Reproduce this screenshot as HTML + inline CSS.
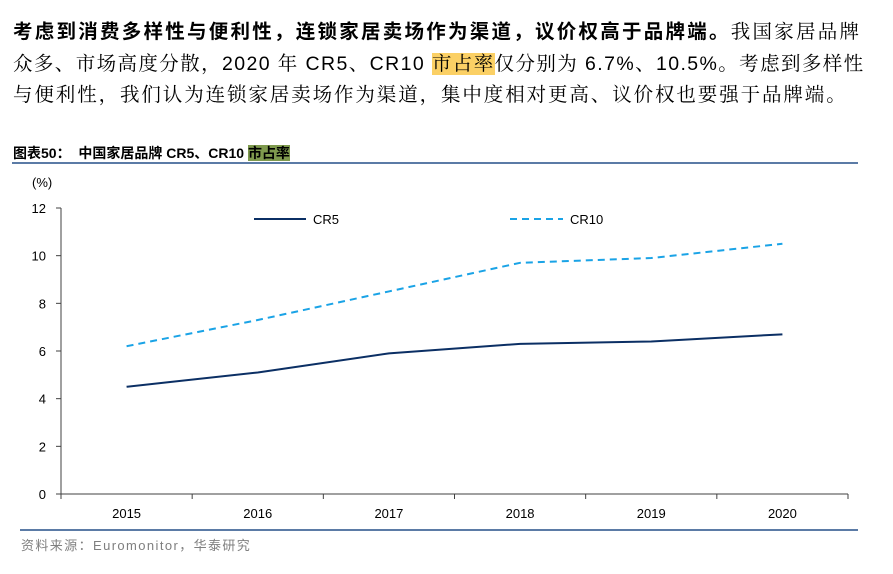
<!DOCTYPE html>
<html><head><meta charset="utf-8"><style>
body{margin:0;width:893px;height:574px;background:#fff;font-family:"Liberation Sans","Noto Sans CJK SC",sans-serif;overflow:hidden;position:relative}
.p{position:absolute;left:13px;width:870px;font-size:19.5px;line-height:31.5px;color:#000;font-family:"Liberation Sans","Noto Serif CJK SC",serif}
.p div{white-space:nowrap}
</style></head><body>
<div class="p" style="top:17px">
<div style="letter-spacing:2.25px"><b style="font-family:'Liberation Sans','Noto Sans CJK SC',sans-serif">考虑到消费多样性与便利性，连锁家居卖场作为渠道，议价权高于品牌端。</b>我国家居品牌</div>
<div style="letter-spacing:1.4px">众多、市场高度分散，2020 年 CR5、CR10 <span style="background:#fbd065">市占率</span>仅分别为 6.7%、10.5%。考虑到多样性</div>
<div style="letter-spacing:1.9px">与便利性，我们认为连锁家居卖场作为渠道，集中度相对更高、议价权也要强于品牌端。</div>
</div>
<div style="position:absolute;left:13px;top:143px;font-size:14px;font-weight:bold">图表50：&nbsp; 中国家居品牌 CR5、CR10 <span style="background:#7f9a4e">市占率</span></div>
<div style="position:absolute;left:12px;top:162px;width:846px;height:2px;background:#5b7ba6"></div>
<div style="position:absolute;left:20px;top:529px;width:838px;height:2px;background:#5b7ba6"></div>
<div style="position:absolute;left:21px;top:535px;font-size:13px;color:#7f7f7f;letter-spacing:1.4px">资料来源：Euromonitor，华泰研究</div>
<svg id="chart" width="893" height="574" style="position:absolute;left:0;top:0" font-family="Liberation Sans, sans-serif"></svg>
<script>
const years=["2015","2016","2017","2018","2019","2020"];
const cr5=[4.5,5.1,5.9,6.3,6.4,6.7];
const cr10=[6.2,7.3,8.5,9.7,9.9,10.5];
const yTicks=[0,2,4,6,8,10,12];
const svg=document.getElementById('chart');const NS='http://www.w3.org/2000/svg';
const x0=61,x1=848,y0=494,y1=208;
const band=(x1-x0)/years.length;
const X=i=>x0+band*(i+0.5);
const Y=v=>y0-(v/12)*(y0-y1);
function mk(t,a,txt){const e=document.createElementNS(NS,t);for(const k in a)e.setAttribute(k,a[k]);if(txt!=null)e.textContent=txt;svg.appendChild(e);return e;}
let e=mk('text',{x:32,y:187,'font-size':13},'(%)');

e=mk('line',{x1:x0,y1:y1,x2:x0,y2:y0,stroke:'#404040','stroke-width':1});

e=mk('line',{x1:x0,y1:y0,x2:x1,y2:y0,stroke:'#404040','stroke-width':1});

yTicks.forEach(v=>{
 e=mk('line',{x1:x0-5,y1:Y(v),x2:x0,y2:Y(v),stroke:'#404040'});
 
 e=mk('text',{x:x0-15,y:Y(v)+5,'font-size':13,'text-anchor':'end'},v);
 
});
for(let i=0;i<=years.length;i++){
 e=mk('line',{x1:x0+band*i,y1:y0,x2:x0+band*i,y2:y0+5,stroke:'#404040'});
 
}
years.forEach((y,i)=>{
 e=mk('text',{x:X(i),y:y0+24,'font-size':13,'text-anchor':'middle'},y);
 
});
e=mk('polyline',{points:cr10.map((v,i)=>X(i)+','+Y(v)).join(' '),fill:'none',stroke:'#1aa3e6','stroke-width':2,'stroke-dasharray':'7,5'});

e=mk('polyline',{points:cr5.map((v,i)=>X(i)+','+Y(v)).join(' '),fill:'none',stroke:'#0b2f64','stroke-width':2});

e=mk('line',{x1:254,y1:219,x2:306,y2:219,stroke:'#0b2f64','stroke-width':2});

e=mk('text',{x:313,y:224,'font-size':13},'CR5');

e=mk('line',{x1:510,y1:219,x2:563,y2:219,stroke:'#1aa3e6','stroke-width':2,'stroke-dasharray':'7,5'});

e=mk('text',{x:570,y:224,'font-size':13},'CR10');

</script>
</body></html>
